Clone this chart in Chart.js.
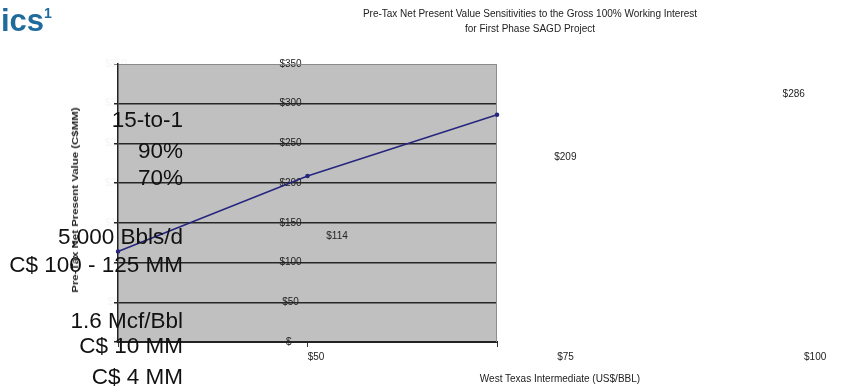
<!DOCTYPE html>
<html>
<head>
<meta charset="utf-8">
<script src="https://cdn.jsdelivr.net/npm/chart.js@4.4.1/dist/chart.umd.min.js"></script>
<style>
  body { margin: 0; background: #fff; font-family: "Liberation Sans", Arial, sans-serif; }
  #wrap { position: relative; width: 841px; height: 392px; overflow: hidden; }
  #npvChart { position: absolute; left: 0; top: 0; }
  .slide-title { position: absolute; left: 1px; top: 1px; font-size: 31px; font-weight: bold; color: #1f6c9c; line-height: 40px; }
  .slide-title sup { font-size: 14px; position: relative; top: -3px; vertical-align: top; line-height: 30px; }
  .chart-title { position: absolute; left: 280px; width: 500px; top: 6px; text-align: center; font-size: 10px; line-height: 15px; color: #222; }
  .x-title { position: absolute; left: 410px; width: 300px; top: 372px; text-align: center; font-size: 10px; line-height: 14px; color: #222; }
  .y-title { position: absolute; left: 75px; top: 200px; width: 220px; margin-left: -110px; margin-top: -6px; text-align: center;
             transform: rotate(-90deg) scaleX(1.27); font-size: 9px; font-weight: bold; line-height: 12px; color: #222; }
  .side { position: absolute; right: 658px; font-size: 22.5px; line-height: 23px; color: #111; white-space: nowrap; text-align: right; }
</style>
</head>
<body>
<div id="wrap">
  <canvas id="npvChart" width="841" height="392"></canvas>
  <div class="slide-title">ics<sup>1</sup></div>
  <div class="chart-title">Pre-Tax Net Present Value Sensitivities to the Gross 100% Working Interest<br>for First Phase SAGD Project</div>
  <div class="y-title">Pre-Tax Net Present Value (C$MM)</div>
  <div class="x-title">West Texas Intermediate (US$/BBL)</div>
  <div class="side" style="top:108px">15-to-1</div>
  <div class="side" style="top:139px">90%</div>
  <div class="side" style="top:166px">70%</div>
  <div class="side" style="top:225px">5,000 Bbls/d</div>
  <div class="side" style="top:253px">C$ 100 - 125 MM</div>
  <div class="side" style="top:309px">1.6 Mcf/Bbl</div>
  <div class="side" style="top:334px">C$ 10 MM</div>
  <div class="side" style="top:365px">C$ 4 MM</div>
</div>
<script>
// WTI price cases and pre-tax NPV (C$MM)
const categories = ["$50", "$75", "$100"];
const npvValues = [114, 209, 286];
const valueLabels = ["$114", "$209", "$286"];
const yTickValues = [0, 50, 100, 150, 200, 250, 300, 350];
const yTickLabels = ["$-", "$50", "$100", "$150", "$200", "$250", "$300", "$350"];

const labelFont = '10px "Liberation Sans", Arial, sans-serif';

// gray plot area + y labels, drawn under the gridlines
const backdrop = {
  id: "backdrop",
  beforeDraw(chart) {
    const { ctx, chartArea, scales } = chart;
    ctx.save();
    ctx.fillStyle = "#c0c0c0";
    ctx.fillRect(chartArea.left, chartArea.top, chartArea.right - chartArea.left, chartArea.bottom - chartArea.top);
    ctx.font = labelFont;
    ctx.textBaseline = "middle";
    ctx.textAlign = "center";
    const lx = scales.x.getPixelForValue(1) - 17;
    yTickValues.forEach((v, i) => {
      const y = scales.y.getPixelForValue(v);
      ctx.fillStyle = "rgba(200,200,200,0.18)";
      ctx.fillText(yTickLabels[i], chartArea.left - 2, y);
      ctx.fillStyle = "#222";
      ctx.fillText(yTickLabels[i], lx, y);
    });
    ctx.restore();
  },
  beforeDatasetsDraw(chart) {
    const { ctx, chartArea } = chart;
    ctx.save();
    ctx.strokeStyle = "#8c8c8c";
    ctx.lineWidth = 1;
    ctx.beginPath();
    ctx.moveTo(chartArea.right - 0.5, chartArea.top);
    ctx.lineTo(chartArea.right - 0.5, chartArea.bottom);
    ctx.stroke();
    ctx.restore();
  },
  afterDraw(chart) {
    const { ctx, chartArea, scales } = chart;
    const left = chartArea.left;
    ctx.save();
    ctx.font = labelFont;
    ctx.fillStyle = "#222";
    ctx.textAlign = "center";
    ctx.textBaseline = "middle";
    categories.forEach((c, i) => {
      const px = scales.x.getPixelForValue(i);
      ctx.fillText(c, left + (px - left) * 1.317 + 198, chartArea.bottom + 15);
      const py = scales.y.getPixelForValue(npvValues[i]);
      ctx.fillText(valueLabels[i], left + (px - left) * 1.205 + 219, py - 12 - npvValues[i] * 0.03);
    });
    ctx.restore();
  }
};

let ctx = document.getElementById("npvChart");
new Chart(ctx, {
  type: "line",
  data: {
    labels: categories,
    datasets: [
      {
        data: npvValues,
        borderColor: "#26267f",
        backgroundColor: "#26267f",
        borderWidth: 1.5,
        pointRadius: 1.5,
        tension: 0,
      },
    ],
  },
  options: {
    responsive: false,
    animation: false,
    layout: { padding: { left: 114, top: 64, right: 344, bottom: 44 } },
    plugins: {
      legend: { display: false },
      tooltip: { enabled: false },
    },
    scales: {
      x: {
        offset: false,
        ticks: { display: false },
        grid: { drawOnChartArea: false, drawTicks: true, tickLength: 5, color: "#333", lineWidth: 1 },
        border: { color: "#222", width: 2 },
        afterFit: (s) => { s.height = 6; },
      },
      y: {
        min: 0,
        max: 350,
        ticks: { display: false, stepSize: 50 },
        grid: {
          color: (c) => (c.tick && c.tick.value === 350 ? "#8a8a8a" : "#262626"),
          lineWidth: (c) => (c.tick && c.tick.value === 350 ? 1 : 1.5),
          tickLength: 4,
        },
        border: { color: "#222", width: 1.5 },
        afterFit: (s) => { s.width = 4; },
      },
    },
  },
  plugins: [backdrop],
});
</script>
</body>
</html>
